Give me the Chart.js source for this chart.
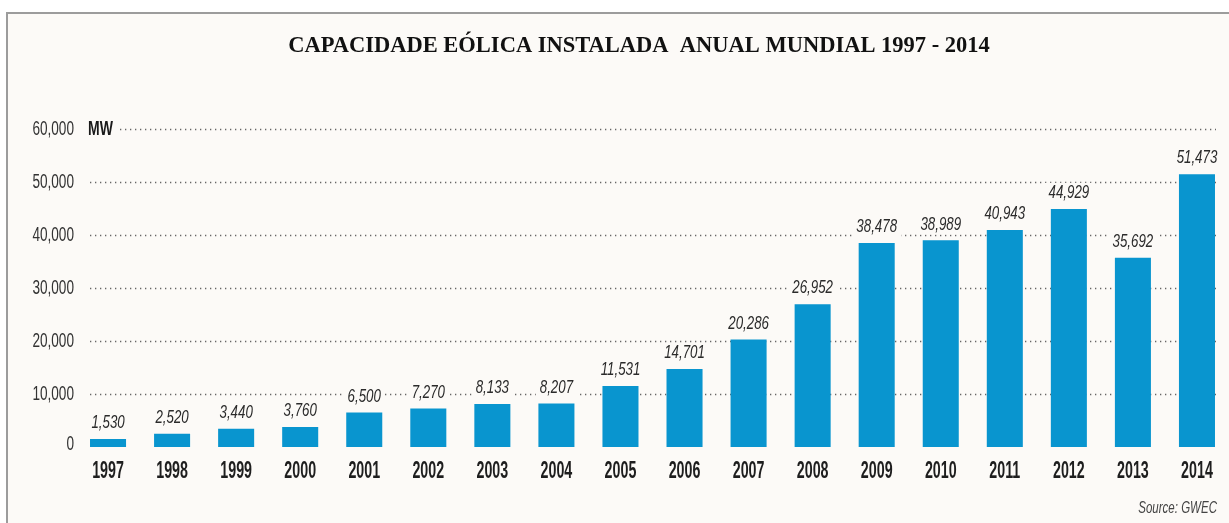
<!doctype html>
<html>
	<head>
		<meta charset="utf-8" />
		<title>Capacidade eólica instalada anual mundial</title>
		<script src="https://cdn.jsdelivr.net/npm/chart.js@4.4.1/dist/chart.umd.min.js"></script>
		<style>
			html,
			body {
				margin: 0;
				padding: 0;
				background: #ffffff;
			}

			#wrap {
				position: relative;
				width: 1229px;
				height: 523px;
			}
		</style>
	</head>

	<body>
		<div id="wrap"><canvas id="windChart"></canvas></div>

		<script>
			// annual installed wind capacity, MW
			const years = [
				"1997", "1998", "1999", "2000", "2001", "2002", "2003", "2004", "2005",
				"2006", "2007", "2008", "2009", "2010", "2011", "2012", "2013", "2014",
			];
			const capacityMW = [
				1530, 2520, 3440, 3760, 6500, 7270, 8133, 8207, 11531,
				14701, 20286, 26952, 38478, 38989, 40943, 44929, 35692, 51473,
			];
			const yTicks = [0, 10000, 20000, 30000, 40000, 50000, 60000];

			const titleText = "CAPACIDADE EÓLICA INSTALADA  ANUAL MUNDIAL 1997 - 2014";
			const unitText = "MW";
			const sourceText = "Source: GWEC";

			const sans = "'Liberation Sans', Arial, sans-serif";
			const serif = "'Liberation Serif', 'Times New Roman', serif";
			const panelColor = "#fcfaf7";
			const barColor = "#0995cf";

			const fmt = (v) => v.toLocaleString("en-US");

			// the infographic uses a condensed face, so squeeze a regular one
			function squeezed(ctx, text, x, y, font, sx, align, color) {
				ctx.save();
				ctx.font = font;
				ctx.fillStyle = color;
				ctx.textAlign = align;
				ctx.textBaseline = "middle";
				ctx.translate(x, y);
				ctx.scale(sx, 1);
				ctx.fillText(text, 0, 0);
				ctx.restore();
			}

			// paper background + frame + title
			const backdrop = {
				id: "backdrop",
				beforeDraw(chart) {
					const { ctx, width, height } = chart;
					ctx.save();
					ctx.fillStyle = "#ffffff";
					ctx.fillRect(0, 0, width, height);
					ctx.fillStyle = panelColor;
					ctx.fillRect(8, 14, width - 8, height - 14);
					ctx.strokeStyle = "#9c9c9c";
					ctx.lineWidth = 2;
					ctx.beginPath();
					ctx.moveTo(7, height);
					ctx.lineTo(7, 13);
					ctx.lineTo(width, 13);
					ctx.stroke();
					ctx.fillStyle = "#111";
					ctx.font = "bold 22.5px " + serif;
					ctx.textAlign = "center";
					ctx.textBaseline = "middle";
					ctx.fillText(titleText, 639, 46);
					ctx.restore();
				},
			};

			// dotted guide lines, axis labels, value labels, source note
			const guides = {
				id: "guides",
				beforeDatasetsDraw(chart) {
					const { ctx } = chart;
					const x = chart.scales.x;
					const y = chart.scales.y;
					ctx.save();
					ctx.strokeStyle = "#666";
					ctx.lineWidth = 1.3;
					ctx.setLineDash([1.3, 3.7]);
					yTicks.forEach((v) => {
						if (v === 0) return;
						const py = Math.round(y.getPixelForValue(v)) + 0.5;
						ctx.beginPath();
						ctx.moveTo(v === 60000 ? 120 : 90, py);
						ctx.lineTo(1216, py);
						ctx.stroke();
					});
					ctx.restore();

					yTicks.forEach((v) => {
						const py = y.getPixelForValue(v) - (v === 0 ? 3 : 0);
						squeezed(ctx, fmt(v), 74, py, "20px " + sans, 0.68, "right", "#333");
					});
					squeezed(ctx, unitText, 88, y.getPixelForValue(60000), "bold 20px " + sans, 0.7, "left", "#1a1a1a");

					years.forEach((lab, i) => {
						squeezed(ctx, lab, x.getPixelForTick(i), 472, "bold 23px " + sans, 0.62, "center", "#1e1e1e");
					});

					squeezed(ctx, sourceText, 1217, 509, "italic 16px " + sans, 0.72, "right", "#444");
				},
				afterDatasetsDraw(chart) {
					const { ctx } = chart;
					const meta = chart.getDatasetMeta(0);
					meta.data.forEach((bar, i) => {
						const txt = fmt(capacityMW[i]);
						ctx.save();
						ctx.font = "italic 19px " + sans;
						const w = ctx.measureText(txt).width * 0.7;
						const cy = bar.y - 16;
						ctx.fillStyle = panelColor;
						ctx.fillRect(bar.x - w / 2 - 4, cy - 10, w + 8, 20);
						ctx.restore();
						squeezed(ctx, txt, bar.x, cy, "italic 19px " + sans, 0.7, "center", "#2b2b2b");
					});
				},
			};

			new Chart(document.getElementById("windChart"), {
				type: "bar",
				data: {
					labels: years,
					datasets: [
						{
							data: capacityMW,
							backgroundColor: barColor,
							barPercentage: 0.5625,
							categoryPercentage: 1,
						},
					],
				},
				options: {
					responsive: true,
					maintainAspectRatio: false,
					animation: false,
					layout: { padding: { top: 129, right: 0, bottom: 0, left: 0 } },
					plugins: {
						legend: { display: false },
						tooltip: { enabled: false },
						title: { display: false },
					},
					scales: {
						x: {
							grid: { display: false, drawTicks: false },
							border: { display: false },
							ticks: { display: false },
							afterFit(scale) {
								scale.height = 76;
							},
						},
						y: {
							min: 0,
							max: 60000,
							grid: { display: false, drawTicks: false },
							border: { display: false },
							afterBuildTicks(scale) {
								scale.ticks = yTicks.map((v) => ({ value: v }));
							},
							ticks: { display: false },
							afterFit(scale) {
								scale.width = 76;
							},
						},
					},
				},
				plugins: [backdrop, guides],
			});
		</script>
	</body>
</html>
